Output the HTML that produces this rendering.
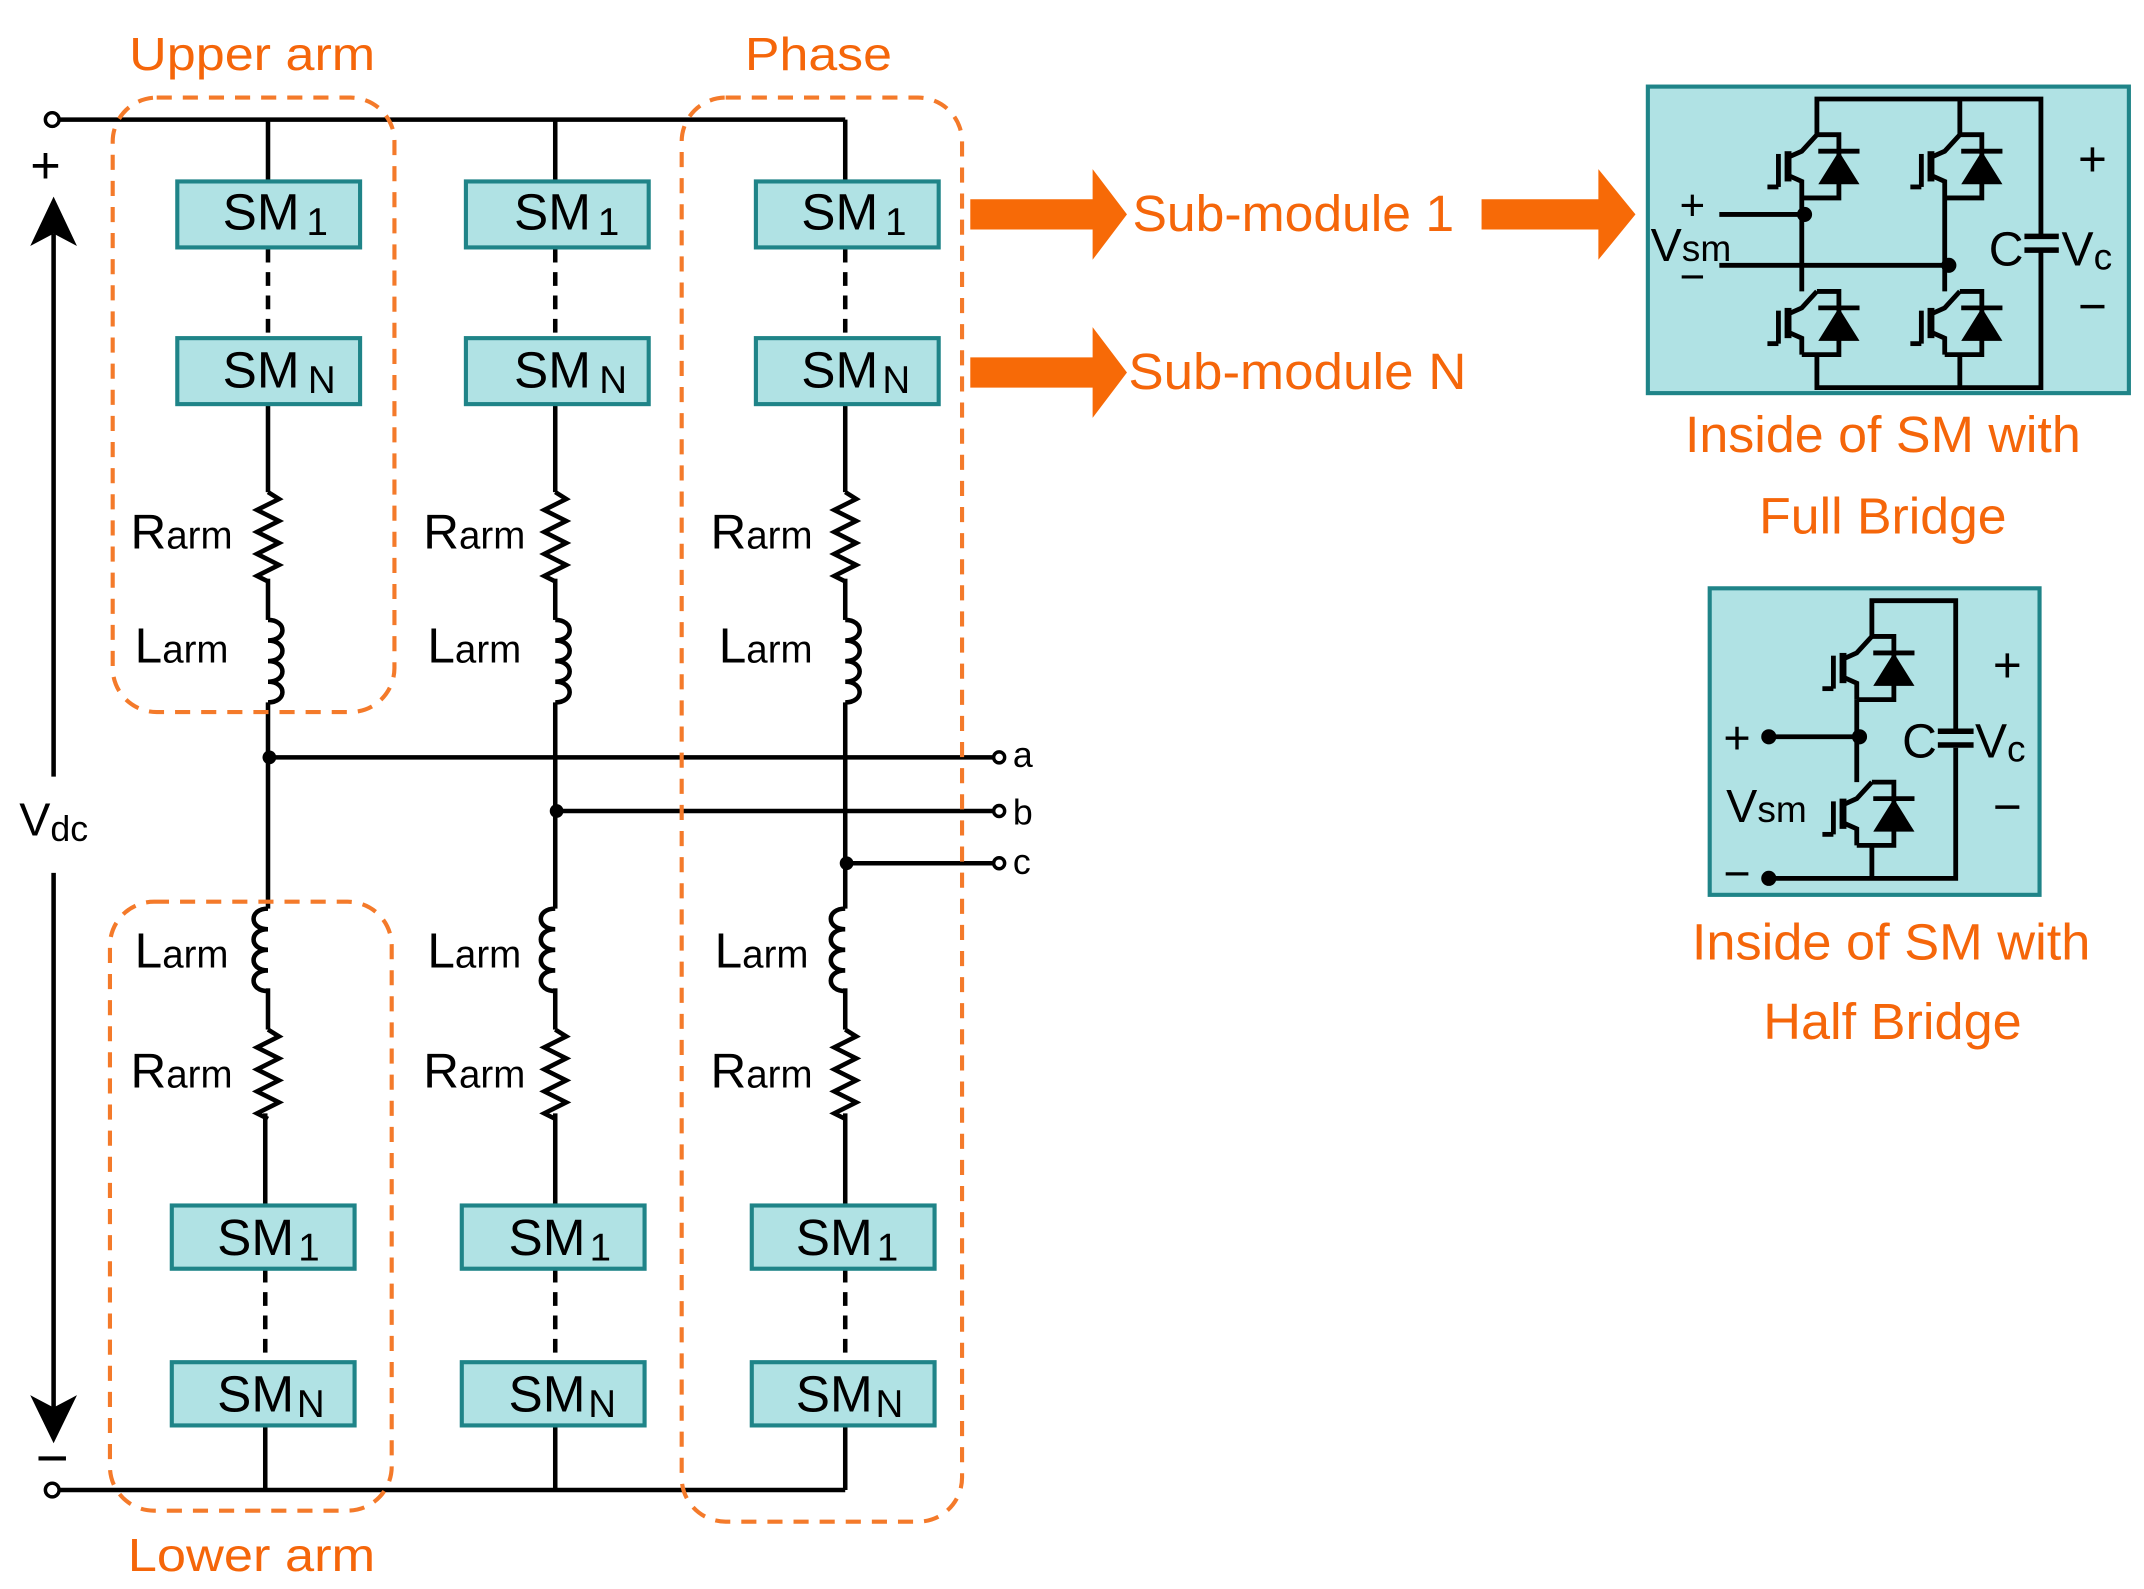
<!DOCTYPE html>
<html><head><meta charset="utf-8"><style>html,body{margin:0;padding:0;background:#fff}svg{display:block}</style></head>
<body>
<svg width="2144" height="1589" viewBox="0 0 1560 1156" preserveAspectRatio="none" xmlns="http://www.w3.org/2000/svg" font-family="Liberation Sans, Arial, sans-serif">
<defs>
<g id="rz"><path d="M0,0 l8,5 l-16,8 l16,8 l-16,8 l16,8 l-16,8 l16,8 l-16,8 l8,4" fill="none" stroke="#000" stroke-width="3.3"/></g>
<g id="indR"><path d="M0,0 c14,0 14,15 0,15 c14,0 14,15 0,15 c14,0 14,15 0,15 c14,0 14,15 0,15" fill="none" stroke="#000" stroke-width="3.3"/></g>
<g id="indL"><path d="M0,0 c-14,0 -14,15 0,15 c-14,0 -14,15 0,15 c-14,0 -14,15 0,15 c-14,0 -14,15 0,15" fill="none" stroke="#000" stroke-width="3.3"/></g>
<g id="cell">
 <path d="M11,0 H27 V46 H0" fill="none" stroke="#000" stroke-width="3.5"/>
 <path d="M11,0 L0,12 L-9,16 M-9,30 L0,34 L0,46" fill="none" stroke="#000" stroke-width="3.5"/>
 <line x1="-10" y1="12" x2="-10" y2="34" stroke="#000" stroke-width="5"/>
 <line x1="-17" y1="14" x2="-17" y2="38" stroke="#000" stroke-width="3.5"/>
 <line x1="-25" y1="38" x2="-17" y2="38" stroke="#000" stroke-width="3.5"/>
 <polygon points="12,36 42,36 27,12" fill="#000"/>
 <line x1="12" y1="12" x2="42" y2="12" stroke="#000" stroke-width="3.5"/>
</g>
</defs>
<rect width="1560" height="1156" fill="#fff"/>
<g fill="none" stroke="#000" stroke-width="3.3">
 <line x1="42" y1="87" x2="615" y2="87"/>
 <line x1="42" y1="1084" x2="615" y2="1084"/>
 <line x1="195" y1="87" x2="195" y2="132"/><line x1="404" y1="87" x2="404" y2="132"/><line x1="615" y1="87" x2="615" y2="132"/>
 <line x1="195" y1="294" x2="195" y2="358"/><line x1="404" y1="294" x2="404" y2="358"/><line x1="615" y1="294" x2="615" y2="358"/>
 <line x1="195" y1="421" x2="195" y2="451"/><line x1="404" y1="421" x2="404" y2="451"/><line x1="615" y1="421" x2="615" y2="451"/>
 <line x1="195" y1="511" x2="195" y2="661"/><line x1="404" y1="511" x2="404" y2="661"/><line x1="615" y1="511" x2="615" y2="661"/>
 <line x1="195" y1="719" x2="195" y2="749"/><line x1="404" y1="719" x2="404" y2="749"/><line x1="615" y1="719" x2="615" y2="749"/>
 <line x1="193" y1="810" x2="193" y2="877"/><line x1="404" y1="810" x2="404" y2="877"/><line x1="615" y1="810" x2="615" y2="877"/>
 <line x1="193" y1="1037" x2="193" y2="1084"/><line x1="404" y1="1037" x2="404" y2="1084"/><line x1="615" y1="1037" x2="615" y2="1084"/>
 <g stroke-dasharray="10,7">
 <line x1="195" y1="181" x2="195" y2="245"/><line x1="404" y1="181" x2="404" y2="245"/><line x1="615" y1="181" x2="615" y2="245"/>
 <line x1="193" y1="923" x2="193" y2="990"/><line x1="404" y1="923" x2="404" y2="990"/><line x1="615" y1="923" x2="615" y2="990"/>
 </g>
 <line x1="195" y1="551" x2="723" y2="551"/>
 <line x1="404" y1="590" x2="723" y2="590"/>
 <line x1="615" y1="628" x2="723" y2="628"/>
 <line x1="39" y1="170" x2="39" y2="565"/>
 <line x1="39" y1="635" x2="39" y2="1025"/>
</g>
<circle cx="38" cy="87" r="5" fill="#fff" stroke="#000" stroke-width="2.5"/>
<circle cx="38" cy="1084" r="5" fill="#fff" stroke="#000" stroke-width="2.5"/>
<circle cx="727" cy="551" r="4" fill="#fff" stroke="#000" stroke-width="2.5"/>
<circle cx="727" cy="590" r="4" fill="#fff" stroke="#000" stroke-width="2.5"/>
<circle cx="727" cy="628" r="4" fill="#fff" stroke="#000" stroke-width="2.5"/>
<circle cx="196" cy="551" r="5" fill="#000"/><circle cx="405" cy="590" r="5" fill="#000"/><circle cx="616" cy="628" r="5" fill="#000"/>
<polygon points="39,143 22,179 39,170 56,179" fill="#000"/>
<polygon points="39,1050 22,1015 39,1024 56,1015" fill="#000"/>
<line x1="28" y1="1061" x2="48" y2="1061" stroke="#000" stroke-width="3"/>
<text x="22" y="133" font-size="38">+</text>
<text x="14" y="608" font-size="34">V<tspan font-size="26" dy="4">dc</tspan></text>
<g font-size="26" fill="#000"><text x="737" y="558">a</text><text x="737" y="600">b</text><text x="737" y="636">c</text></g>
<use href="#rz" x="195" y="358"/><use href="#rz" x="404" y="358"/><use href="#rz" x="615" y="358"/>
<use href="#indR" x="195" y="451"/><use href="#indR" x="404" y="451"/><use href="#indR" x="615" y="451"/>
<use href="#indL" x="195" y="661"/><use href="#indL" x="404" y="661"/><use href="#indL" x="615" y="661"/>
<use href="#rz" x="195" y="749"/><use href="#rz" x="404" y="749"/><use href="#rz" x="615" y="749"/>
<g fill="#000">
 <text x="95" y="399" font-size="36">R<tspan font-size="28">arm</tspan></text>
 <text x="308" y="399" font-size="36">R<tspan font-size="28">arm</tspan></text>
 <text x="517" y="399" font-size="36">R<tspan font-size="28">arm</tspan></text>
 <text x="98" y="482" font-size="36">L<tspan font-size="28">arm</tspan></text>
 <text x="311" y="482" font-size="36">L<tspan font-size="28">arm</tspan></text>
 <text x="523" y="482" font-size="36">L<tspan font-size="28">arm</tspan></text>
 <text x="98" y="704" font-size="36">L<tspan font-size="28">arm</tspan></text>
 <text x="311" y="704" font-size="36">L<tspan font-size="28">arm</tspan></text>
 <text x="520" y="704" font-size="36">L<tspan font-size="28">arm</tspan></text>
 <text x="95" y="791" font-size="36">R<tspan font-size="28">arm</tspan></text>
 <text x="308" y="791" font-size="36">R<tspan font-size="28">arm</tspan></text>
 <text x="517" y="791" font-size="36">R<tspan font-size="28">arm</tspan></text>
</g>
<g fill="#b0e2e4" stroke="#1f8488" stroke-width="3">
 <rect x="129" y="132" width="133" height="48"/><rect x="339" y="132" width="133" height="48"/><rect x="550" y="132" width="133" height="48"/>
 <rect x="129" y="246" width="133" height="48"/><rect x="339" y="246" width="133" height="48"/><rect x="550" y="246" width="133" height="48"/>
 <rect x="125" y="877" width="133" height="46"/><rect x="336" y="877" width="133" height="46"/><rect x="547" y="877" width="133" height="46"/>
 <rect x="125" y="991" width="133" height="46"/><rect x="336" y="991" width="133" height="46"/><rect x="547" y="991" width="133" height="46"/>
</g>
<g fill="#000" font-size="37">
 <text x="162" y="167"><tspan textLength="56" lengthAdjust="spacingAndGlyphs">SM</tspan><tspan font-size="28" dx="5" dy="4">1</tspan></text>
 <text x="374" y="167"><tspan textLength="56" lengthAdjust="spacingAndGlyphs">SM</tspan><tspan font-size="28" dx="5" dy="4">1</tspan></text>
 <text x="583" y="167"><tspan textLength="56" lengthAdjust="spacingAndGlyphs">SM</tspan><tspan font-size="28" dx="5" dy="4">1</tspan></text>
 <text x="162" y="282"><tspan textLength="56" lengthAdjust="spacingAndGlyphs">SM</tspan><tspan font-size="28" dx="6" dy="4">N</tspan></text>
 <text x="374" y="282"><tspan textLength="56" lengthAdjust="spacingAndGlyphs">SM</tspan><tspan font-size="28" dx="6" dy="4">N</tspan></text>
 <text x="583" y="282"><tspan textLength="56" lengthAdjust="spacingAndGlyphs">SM</tspan><tspan font-size="28" dx="3" dy="4">N</tspan></text>
 <text x="158" y="913"><tspan textLength="56" lengthAdjust="spacingAndGlyphs">SM</tspan><tspan font-size="28" dx="3" dy="4">1</tspan></text>
 <text x="370" y="913"><tspan textLength="56" lengthAdjust="spacingAndGlyphs">SM</tspan><tspan font-size="28" dx="3" dy="4">1</tspan></text>
 <text x="579" y="913"><tspan textLength="56" lengthAdjust="spacingAndGlyphs">SM</tspan><tspan font-size="28" dx="3" dy="4">1</tspan></text>
 <text x="158" y="1027"><tspan textLength="56" lengthAdjust="spacingAndGlyphs">SM</tspan><tspan font-size="28" dx="2" dy="4">N</tspan></text>
 <text x="370" y="1027"><tspan textLength="56" lengthAdjust="spacingAndGlyphs">SM</tspan><tspan font-size="28" dx="2" dy="4">N</tspan></text>
 <text x="579" y="1027"><tspan textLength="56" lengthAdjust="spacingAndGlyphs">SM</tspan><tspan font-size="28" dx="2" dy="4">N</tspan></text>
</g>
<g fill="none" stroke="#f47a2a" stroke-width="3" stroke-dasharray="11,8">
 <rect x="82" y="71" width="205" height="447" rx="32"/>
 <rect x="496" y="71" width="204" height="1036" rx="32"/>
 <rect x="80" y="656" width="205" height="443" rx="32"/>
</g>
<g fill="#f5660a" font-size="34">
 <text x="94" y="51" textLength="179" lengthAdjust="spacingAndGlyphs">Upper arm</text>
 <text x="542" y="51" textLength="107" lengthAdjust="spacingAndGlyphs">Phase</text>
 <text x="93" y="1143" textLength="180" lengthAdjust="spacingAndGlyphs">Lower arm</text>
</g>
<g fill="#f76a07">
 <polygon points="706,145 795,145 795,123 820,156 795,189 795,167 706,167"/>
 <polygon points="706,260 795,260 795,238 820,271 795,304 795,282 706,282"/>
 <polygon points="1078,145 1163,145 1163,123 1190,156 1163,189 1163,167 1078,167"/>
</g>
<g fill="#f5660a" font-size="37">
 <text x="824" y="168" textLength="234" lengthAdjust="spacingAndGlyphs">Sub-module 1</text>
 <text x="821" y="283" textLength="246" lengthAdjust="spacingAndGlyphs">Sub-module N</text>
 <text x="1226" y="329" textLength="288" lengthAdjust="spacingAndGlyphs">Inside of SM with</text>
 <text x="1280" y="388" textLength="180" lengthAdjust="spacingAndGlyphs">Full Bridge</text>
 <text x="1231" y="698" textLength="290" lengthAdjust="spacingAndGlyphs">Inside of SM with</text>
 <text x="1283" y="756" textLength="188" lengthAdjust="spacingAndGlyphs">Half Bridge</text>
</g>
<!-- Full bridge -->
<rect x="1199" y="63" width="350" height="223" fill="#b0e2e4" stroke="#1f8488" stroke-width="3"/>
<g fill="none" stroke="#000" stroke-width="3.5">
 <path d="M1322,98 V72 H1485 V282 H1322 V258"/>
 <line x1="1426" y1="72" x2="1426" y2="98"/>
 <line x1="1426" y1="282" x2="1426" y2="258"/>
 <line x1="1311" y1="144" x2="1311" y2="212"/>
 <line x1="1415" y1="144" x2="1415" y2="212"/>
 <line x1="1251" y1="156" x2="1311" y2="156"/>
 <line x1="1251" y1="193" x2="1415" y2="193"/>
</g>
<rect x="1478" y="171" width="16" height="12" fill="#b0e2e4"/>
<line x1="1473" y1="172" x2="1498" y2="172" stroke="#000" stroke-width="4"/>
<line x1="1473" y1="182" x2="1498" y2="182" stroke="#000" stroke-width="4"/>
<use href="#cell" x="1311" y="98"/><use href="#cell" x="1415" y="98"/>
<use href="#cell" x="1311" y="212"/><use href="#cell" x="1415" y="212"/>
<circle cx="1313" cy="156" r="5.5" fill="#000"/><circle cx="1418" cy="193" r="5.5" fill="#000"/>
<g fill="#000">
 <text x="1222" y="160" font-size="32">+</text>
 <text x="1222" y="212" font-size="32">−</text>
 <text x="1201" y="190" font-size="34">V<tspan font-size="27">sm</tspan></text>
 <text x="1447" y="193" font-size="35">C</text>
 <text x="1500" y="193" font-size="35">V<tspan font-size="27" dy="3">c</tspan></text>
 <text x="1512" y="128" font-size="36">+</text>
 <text x="1512" y="235" font-size="36">−</text>
</g>
<!-- Half bridge -->
<rect x="1244" y="428" width="240" height="223" fill="#b0e2e4" stroke="#1f8488" stroke-width="3"/>
<g fill="none" stroke="#000" stroke-width="3.5">
 <path d="M1362,463 V437 H1423 V639 H1287"/>
 <line x1="1362" y1="639" x2="1362" y2="615"/>
 <line x1="1351" y1="509" x2="1351" y2="569"/>
 <line x1="1287" y1="536" x2="1351" y2="536"/>
</g>
<rect x="1415" y="531" width="16" height="13" fill="#b0e2e4"/>
<line x1="1410" y1="532" x2="1436" y2="532" stroke="#000" stroke-width="4"/>
<line x1="1410" y1="542" x2="1436" y2="542" stroke="#000" stroke-width="4"/>
<use href="#cell" x="1351" y="463"/><use href="#cell" x="1351" y="569"/>
<circle cx="1287" cy="536" r="5.5" fill="#000"/><circle cx="1287" cy="639" r="5.5" fill="#000"/><circle cx="1353" cy="536" r="5.5" fill="#000"/>
<g fill="#000">
 <text x="1254" y="548" font-size="34">+</text>
 <text x="1254" y="647" font-size="34">−</text>
 <text x="1256" y="598" font-size="34">V<tspan font-size="27">sm</tspan></text>
 <text x="1384" y="551" font-size="35">C</text>
 <text x="1437" y="551" font-size="35">V<tspan font-size="27" dy="3">c</tspan></text>
 <text x="1450" y="496" font-size="36">+</text>
 <text x="1450" y="599" font-size="36">−</text>
</g>
</svg>
</body></html>
